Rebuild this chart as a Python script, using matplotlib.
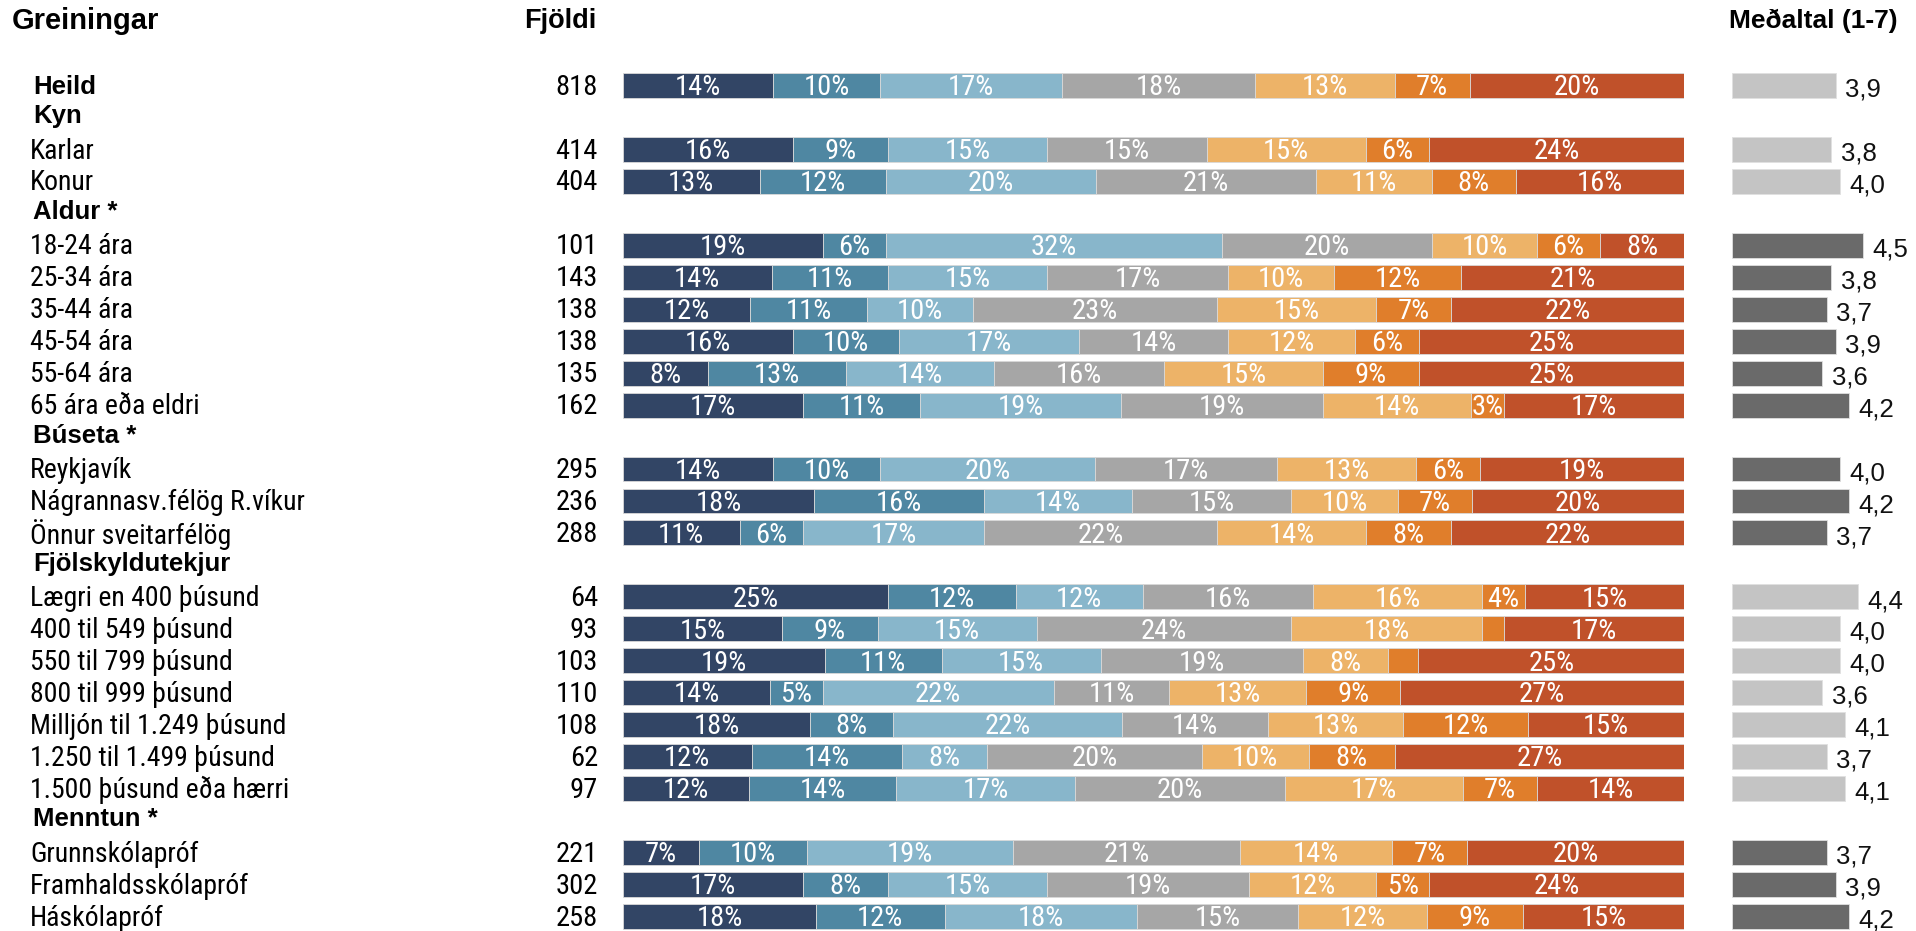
import matplotlib
matplotlib.use("Agg")
import matplotlib.pyplot as plt
from matplotlib import font_manager
from matplotlib.transforms import blended_transform_factory

# rows of the table (top to bottom); headers have no bar
row_labels = [
    "Heild", "Kyn", "Karlar", "Konur",
    "Aldur *", "18-24 ára", "25-34 ára", "35-44 ára", "45-54 ára", "55-64 ára", "65 ára eða eldri",
    "Búseta *", "Reykjavík", "Nágrannasv.félög R.víkur", "Önnur sveitarfélög",
    "Fjölskyldutekjur", "Lægri en 400 þúsund", "400 til 549 þúsund", "550 til 799 þúsund",
    "800 til 999 þúsund", "Milljón til 1.249 þúsund", "1.250 til 1.499 þúsund", "1.500 þúsund eða hærri",
    "Menntun *", "Grunnskólapróf", "Framhaldsskólapróf", "Háskólapróf",
]
header_rows = ["Heild", "Kyn", "Aldur *", "Búseta *", "Fjölskyldutekjur", "Menntun *"]

counts = [818, None, 414, 404,
          None, 101, 143, 138, 138, 135, 162,
          None, 295, 236, 288,
          None, 64, 93, 103, 110, 108, 62, 97,
          None, 221, 302, 258]

shares = [
    [14, 10, 17, 18, 13, 7, 20],
    None,
    [16, 9, 15, 15, 15, 6, 24],
    [13, 12, 20, 21, 11, 8, 16],
    None,
    [19, 6, 32, 20, 10, 6, 8],
    [14, 11, 15, 17, 10, 12, 21],
    [12, 11, 10, 23, 15, 7, 22],
    [16, 10, 17, 14, 12, 6, 25],
    [8, 13, 14, 16, 15, 9, 25],
    [17, 11, 19, 19, 14, 3.1, 17],
    None,
    [14, 10, 20, 17, 13, 6, 19],
    [18, 16, 14, 15, 10, 7, 20],
    [11, 6, 17, 22, 14, 8, 22],
    None,
    [25, 12, 12, 16, 16, 4, 15],
    [15, 9, 15, 24, 18, 2, 17],
    [19, 11, 15, 19, 8, 2.9, 25],
    [14, 5, 22, 11, 13, 9, 27],
    [18, 8, 22, 14, 13, 12, 15],
    [12, 14, 8, 20, 10, 8, 27],
    [12, 14, 17, 20, 17, 7, 14],
    None,
    [7, 10, 19, 21, 14, 7, 20],
    [17, 8, 15, 19, 12, 5, 24],
    [18, 12, 18, 15, 12, 9, 15],
]

means = [3.9, None, 3.8, 4.0,
         None, 4.5, 3.8, 3.7, 3.9, 3.6, 4.2,
         None, 4.0, 4.2, 3.7,
         None, 4.4, 4.0, 4.0, 3.6, 4.1, 3.7, 4.1,
         None, 3.7, 3.9, 4.2]
significant = [False, False, False, False,
               True, True, True, True, True, True, True,
               True, True, True, True,
               False, False, False, False, False, False, False, False,
               True, True, True, True]

seg_colors = ["#324565", "#4F87A2", "#88B6CB", "#A6A6A6", "#EDB368", "#E07E2B", "#C0512A"]

# fonts: a narrow face like Arial Narrow for most text, Arial-like for the rest
installed = {f.name for f in font_manager.fontManager.ttflist}
narrow = "Liberation Sans"
for cand in ["Roboto Condensed", "Archivo Narrow", "PT Sans Narrow"]:
    if cand in installed:
        narrow = cand
        break
wide = "Liberation Sans" if "Liberation Sans" in installed else "DejaVu Sans"

W, H = 1916, 931
fig = plt.figure(figsize=(W / 100, H / 100), dpi=100)

n = len(row_labels)
slot = 31.96
top_px = 85.5 - slot / 2
bot_px = top_px + n * slot


def axes_px(x0, x1):
    return fig.add_axes([x0 / W, 1 - bot_px / H, (x1 - x0) / W, (bot_px - top_px) / H])


ax = axes_px(623, 1684)
axm = axes_px(1732, 1916)
for a in (ax, axm):
    a.set_ylim(n - 0.5, -0.5)
    a.axis("off")
ax.set_xlim(0, 100)
axm.set_xlim(1.6, 1.6 + 184 / 45)

bh = 0.78
for i, row in enumerate(shares):
    if row is None:
        continue
    tot = sum(row)
    left = 0
    for v, c in zip(row, seg_colors):
        w = v / tot * 100
        ax.barh(i, w, left=left, height=bh, color=c, edgecolor="#D9D9D9", linewidth=0.6)
        if v >= 3:
            ax.text(left + w / 2, i + 0.07, f"{v:.0f}%", ha="center", va="center",
                    color="white", fontsize=20.5, family=narrow)
        left += w

for i, m in enumerate(means):
    if m is None:
        continue
    col = "#6A6A6A" if significant[i] else "#C4C4C4"
    axm.barh(i, m - 1.6, left=1.6, height=bh, color=col, edgecolor="#E0E0E0", linewidth=0.6)
    axm.annotate(f"{m:.1f}".replace(".", ","), (m, i), xytext=(7, -3), textcoords="offset points",
                 ha="left", va="center", fontsize=18.5, family=wide, color="#111111")

tr = blended_transform_factory(fig.transFigure, ax.transData)
for i, lab in enumerate(row_labels):
    bold = lab in header_rows
    dy = -0.04 if (bold and lab != "Heild") else 0.05
    fig.text((33 if bold else 30) / W, i + dy, lab, transform=tr, ha="left", va="center",
             fontsize=18.5 if bold else 20, family=wide if bold else narrow,
             fontweight="bold" if bold else "normal", color="black")
    if counts[i] is not None:
        fig.text(598 / W, i + 0.05, str(counts[i]), transform=tr, ha="right", va="center",
                 fontsize=20.5, family=narrow, color="black")

fig.text(12 / W, 1 - 21 / H, "Greiningar", ha="left", va="center", fontsize=21,
         fontweight="bold", family=wide)
fig.text(596 / W, 1 - 21 / H, "Fjöldi", ha="right", va="center", fontsize=19.5,
         fontweight="bold", family=wide)
fig.text(1898 / W, 1 - 21 / H, "Meðaltal (1-7)", ha="right", va="center", fontsize=19,
         fontweight="bold", family=wide)

fig.savefig("out.png", dpi=100)
